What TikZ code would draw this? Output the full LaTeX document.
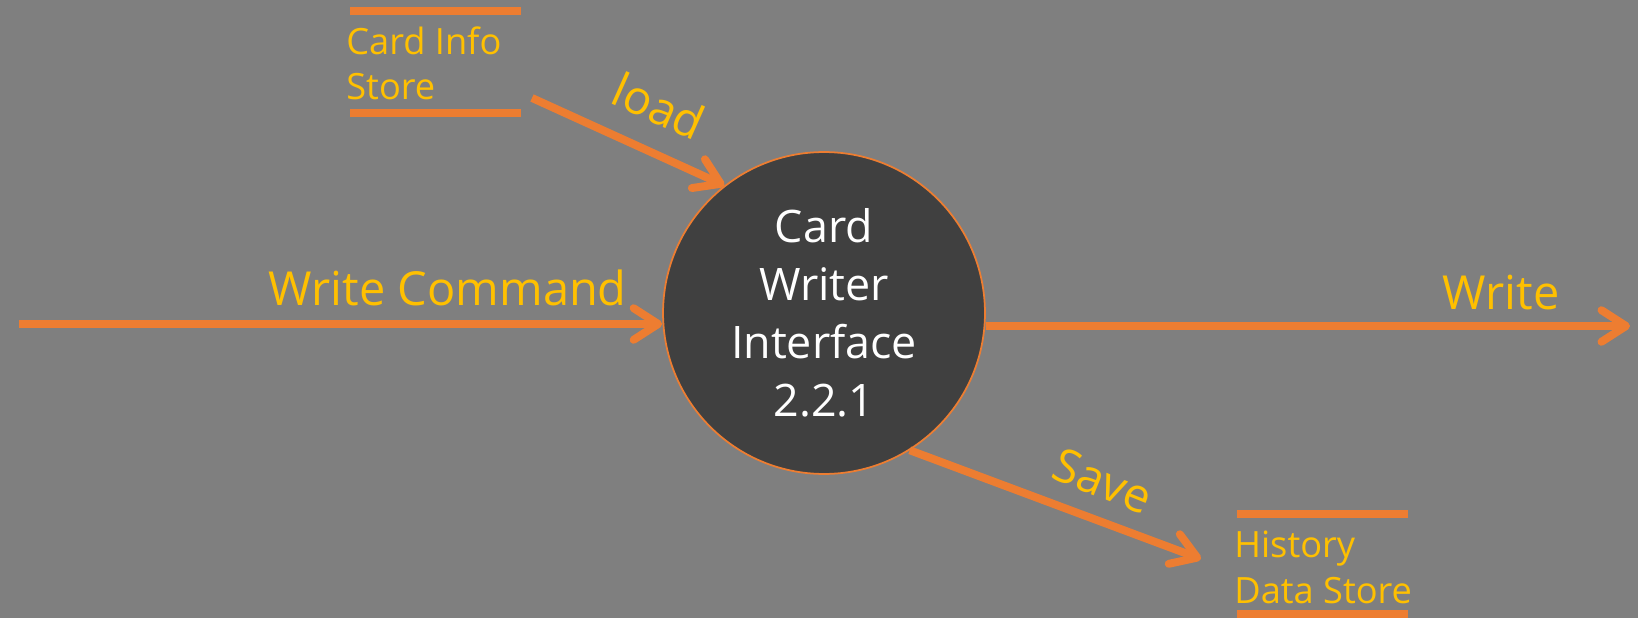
\documentclass[tikz,border=0pt]{standalone}
\usepackage{fontspec}
\setmainfont{Open Sans}
\usetikzlibrary{arrows.meta}
\definecolor{bggray}{HTML}{7F7F7F}
\definecolor{dfdorange}{HTML}{ED7D31}
\definecolor{dfdyellow}{HTML}{FFC000}
\definecolor{procfill}{HTML}{404040}
\tikzset{
    flow/.style={draw=dfdorange, line width=4.5pt, -{Straight Barb[length=14pt, width=18pt, line cap=round, line join=round]}},
    storeline/.style={draw=dfdorange, line width=4.5pt},
    flowlabel/.style={text=dfdyellow, font=\fontsize{26.7}{32}\selectfont},
    storetext/.style={text=dfdyellow, font=\fontsize{20.6}{26}\selectfont, align=left, inner sep=0pt},
    process/.style={circle, fill=procfill, draw=dfdorange, line width=1pt, minimum size=6.44cm, inner sep=0pt, text=white, align=center, font=\fontsize{25.5}{33}\selectfont},
}
\begin{document}
\begin{tikzpicture}[x=0.02cm, y=-0.02cm]
    \fill[bggray] (0,0) rectangle (1638,618);
    \useasboundingbox (0,0) rectangle (1638,618);

    \node[process] (proc) at (824,313) {Card\\Writer\\Interface\\2.2.1};

    % card info store
    \draw[storeline] (350,11) to (521,11);
    \draw[storeline] (350,113) to (521,113);
        \node[storetext, anchor=base west] (cistore) at (346,100) {Card Info\\Store};
    % history data store
    \draw[storeline] (1237,514) to (1408,514);
    \draw[storeline] (1237,614) to (1408,614);
        \node[storetext, anchor=base west] (hdstore) at (1234,603) {History\\Data Store};

    \coordinate (loadsrc) at (532,98);
    \coordinate (cmdsrc) at (19,324);
    \coordinate (writedst) at (1630,326);
    \coordinate (savedst) at (1201,559);

    \draw[flow] (loadsrc) to (proc.128);
        \node[flowlabel, rotate=-24] (loadlbl) at (659,106) {load};
    \draw[flow] (cmdsrc) to (proc.west |- cmdsrc);
        \node[flowlabel, anchor=base east, inner sep=0pt] (cmdlbl) at (627,305) {Write Command};
    \draw[flow] (proc.east |- writedst) to (writedst);
        \node[flowlabel, anchor=base, inner sep=0pt] (writelbl) at (1501,309) {Write};
    \draw[flow] (proc.-58) to (savedst);
        \node[flowlabel, rotate=-22] (savelbl) at (1103,481) {Save};
\end{tikzpicture}
\end{document}
